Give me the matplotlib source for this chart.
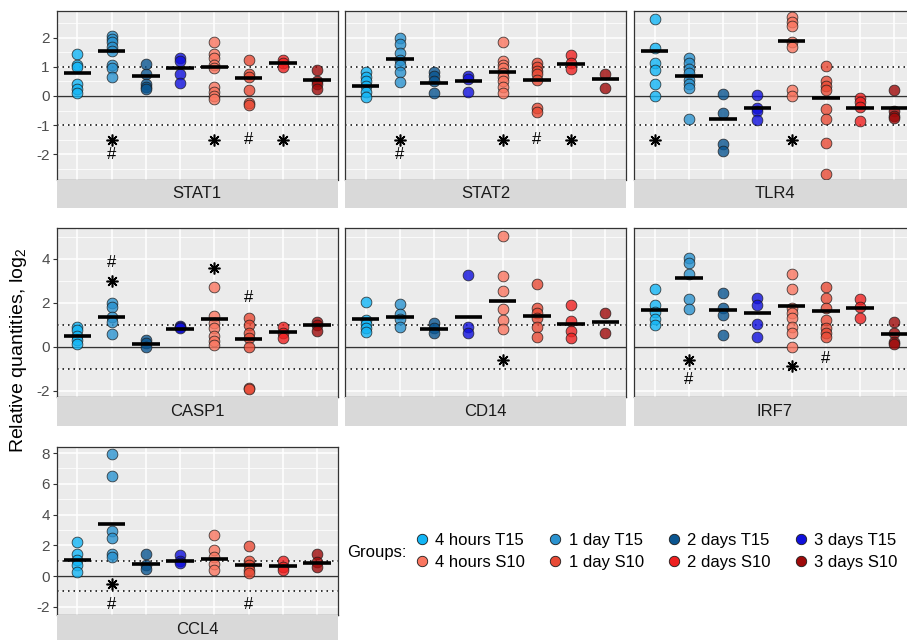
import matplotlib
matplotlib.use("Agg")
import matplotlib.pyplot as plt
from matplotlib.lines import Line2D
import numpy as np

plt.rcParams['font.family'] = ['Liberation Sans', 'DejaVu Sans']

groups = ["4 hours T15", "1 day T15", "2 days T15", "3 days T15",
          "4 hours S10", "1 day S10", "2 days S10", "3 days S10"]
colors = ["#12B5F5", "#2A92CF", "#0A5590", "#1010DC",
          "#FA7660", "#E84A35", "#EE2020", "#9E0A0A"]

genes = ["STAT1", "STAT2", "TLR4", "CASP1", "CD14", "IRF7", "CCL4"]

stat1_points = [[1.43, 1.05, 1.0, 0.4, 0.25, 0.1],
                [2.05, 1.95, 1.85, 1.7, 1.55, 1.05, 0.95, 0.65],
                [1.1, 0.75, 0.4, 0.3, 0.25],
                [1.3, 1.2, 0.75, 0.45],
                [1.85, 1.45, 1.3, 1.05, 0.95, 0.3, 0.15, 0.0, -0.1],
                [1.25, 0.75, 0.65, 0.2, -0.25, -0.3],
                [1.25, 1.15, 1.0],
                [0.9, 0.5, 0.4, 0.25]]
stat1_means = [0.78, 1.54, 0.69, 0.97, 0.98, 0.63, 1.12, 0.54]
stat1_stars = [(2, -1.5), (5, -1.5), (7, -1.5)]
stat1_hash = [(2, -2.0), (6, -1.5)]

stat2_points = [[0.83, 0.65, 0.5, 0.35, 0.15, -0.05],
                [1.99, 1.79, 1.47, 1.23, 1.06, 0.83, 0.48],
                [0.83, 0.67, 0.53, 0.09],
                [0.7, 0.6, 0.15],
                [1.84, 1.2, 1.05, 0.95, 0.8, 0.65, 0.5, 0.3, 0.1],
                [1.12, 1.0, 0.85, 0.75, 0.55, -0.4, -0.55],
                [1.4, 1.12, 0.94],
                [0.74, 0.28]]
stat2_means = [0.36, 1.27, 0.43, 0.51, 0.83, 0.56, 1.09, 0.6]
stat2_stars = [(2, -1.5), (5, -1.5), (7, -1.5)]
stat2_hash = [(2, -2.0), (6, -1.5)]

tlr4_points = [[2.65, 1.65, 1.15, 0.9, 0.4, 0.0],
               [1.29, 1.12, 0.94, 0.79, 0.56, 0.42, 0.27, -0.8],
               [0.07, -0.6, -1.65, -1.88],
               [0.03, -0.4, -0.5, -0.84],
               [2.72, 2.53, 2.4, 1.87, 1.7, 0.21, 0.0],
               [1.03, 0.53, 0.36, 0.21, -0.45, -0.8, -1.62, -2.69],
               [-0.07, -0.22, -0.37, -0.86],
               [0.19, -0.51, -0.69, -0.77]]
tlr4_means = [1.55, 0.69, -0.8, -0.41, 1.9, -0.07, -0.4, -0.41]
tlr4_stars = [(1, -1.5), (5, -1.5)]
tlr4_hash = []

casp1_points = [[0.9, 0.75, 0.5, 0.3, 0.12],
                [1.97, 1.82, 1.36, 1.14, 0.56],
                [0.3, 0.15, -0.03],
                [0.94, 0.88, 0.83],
                [2.7, 1.39, 1.06, 0.83, 0.48, 0.26, 0.08],
                [1.29, 0.98, 0.61, 0.38, 0.0, -1.9, -1.94],
                [0.91, 0.64, 0.41],
                [1.14, 0.98, 0.73]]
casp1_means = [0.5, 1.33, 0.1, 0.82, 1.26, 0.33, 0.65, 0.98]
casp1_stars = [(2, 2.98), (5, 3.59)]
casp1_hash = [(2, 3.83), (6, 2.23)]

cd14_points = [[2.05, 1.21, 1.03, 0.83, 0.68],
               [1.94, 1.48, 1.24, 0.91],
               [1.09, 0.83, 0.61],
               [3.26, 0.91, 0.64],
               [5.05, 3.21, 2.53, 1.7, 1.21, 0.79],
               [2.85, 1.74, 1.52, 1.29, 0.88, 0.42],
               [1.89, 1.18, 0.73, 0.38],
               [1.55, 0.64]]
cd14_means = [1.24, 1.36, 0.8, 1.36, 2.09, 1.39, 1.03, 1.1]
cd14_stars = [(5, -0.61)]
cd14_hash = []

irf7_points = [[2.62, 1.89, 1.59, 1.24, 0.98],
               [4.05, 3.82, 3.29, 2.15, 1.7],
               [2.45, 1.74, 1.44, 0.53],
               [2.2, 1.89, 1.02, 0.42],
               [3.29, 2.62, 1.74, 1.52, 1.29, 0.91, 0.64, -0.03],
               [2.73, 2.2, 1.74, 1.21, 0.83, 0.61, 0.45],
               [2.15, 1.79, 1.29],
               [1.14, 0.64, 0.23, 0.12]]
irf7_means = [1.67, 3.11, 1.67, 1.55, 1.85, 1.62, 1.77, 0.56]
irf7_stars = [(2, -0.6), (5, -0.88)]
irf7_hash = [(2, -1.5), (6, -0.53)]

ccl4_points = [[2.23, 1.41, 1.04, 0.72, 0.28],
               [7.95, 6.51, 2.93, 2.45, 1.41, 1.26],
               [1.41, 0.72, 0.46],
               [1.37, 0.98, 0.82],
               [2.67, 1.67, 1.26, 0.76, 0.39],
               [1.95, 0.98, 0.72, 0.39, 0.17],
               [0.98, 0.61, 0.39],
               [1.41, 0.93, 0.61]]
ccl4_means = [1.02, 3.36, 0.76, 1.0, 1.08, 0.74, 0.65, 0.85]
ccl4_stars = [(2, -0.54)]
ccl4_hash = [(2, -1.84), (6, -1.84)]

row_ylims = [(-2.87, 2.92), (-2.3, 5.38), (-2.53, 8.41)]
row_major = [[-2, -1, 0, 1, 2], [-2, 0, 2, 4], [-2, 0, 2, 4, 6, 8]]
row_minor = [[-2.5, -1.5, -0.5, 0.5, 1.5, 2.5], [-1, 1, 3, 5], [-1, 1, 3, 5, 7]]

panels = [
    (stat1_points, stat1_means, stat1_stars, stat1_hash),
    (stat2_points, stat2_means, stat2_stars, stat2_hash),
    (tlr4_points, tlr4_means, tlr4_stars, tlr4_hash),
    (casp1_points, casp1_means, casp1_stars, casp1_hash),
    (cd14_points, cd14_means, cd14_stars, cd14_hash),
    (irf7_points, irf7_means, irf7_stars, irf7_hash),
    (ccl4_points, ccl4_means, ccl4_stars, ccl4_hash),
]

W, H = 907, 640
fig = plt.figure(figsize=(W / 100, H / 100), dpi=100)


def add_px(l, t, w, h):
    return fig.add_axes([l / W, 1 - (t + h) / H, w / W, h / H])


col_left = [56.7, 345.0, 634.0]
panel_w = 281.0
row_tb = [(11.0, 179.5), (228.3, 397.3), (446.7, 615.0)]
strip_h = 28.7

for k, (gene, (pts, means, stars, hashes)) in enumerate(zip(genes, panels)):
    r, c = divmod(k, 3)
    top, bot = row_tb[r]
    ax = add_px(col_left[c], top, panel_w, bot - top)
    ax.set_facecolor('#EBEBEB')
    ax.set_xlim(0.4, 8.6)
    ax.set_ylim(*row_ylims[r])
    ax.set_xticks(np.arange(1, 9))
    ax.set_yticks(row_major[r])
    ax.set_yticks(row_minor[r], minor=True)
    ax.set_axisbelow(True)
    ax.grid(which='major', axis='both', color='white', lw=1.1)
    ax.grid(which='minor', axis='y', color='white', lw=0.55)
    ax.tick_params(axis='x', length=0, labelbottom=False)
    ax.tick_params(axis='y', which='minor', length=0)
    if c == 0:
        ax.tick_params(axis='y', which='major', length=3, color='#333333',
                       labelsize=11, labelcolor='#4D4D4D', pad=2)
        ax.set_yticklabels([str(v) for v in row_major[r]])
    else:
        ax.tick_params(axis='y', which='major', length=0, labelleft=False)
    for sp in ax.spines.values():
        sp.set_color('#333333')
        sp.set_linewidth(0.9)

    ax.axhline(0, color='#333333', lw=1.0, zorder=1.5)
    for yv in (1, -1):
        ax.axhline(yv, color='black', lw=1.1, ls=(0, (1, 2.6)), zorder=1.5)

    for i, vals in enumerate(pts):
        x = np.full(len(vals), i + 1)
        ax.scatter(x, vals, s=60, c=colors[i], alpha=0.8,
                   edgecolors='#1a1a1a', linewidths=0.6, zorder=3)
        ax.hlines(means[i], i + 1 - 0.4, i + 1 + 0.4, color='black',
                  lw=2.6, zorder=4)
    for (xi, yv) in stars:
        ax.plot([xi], [yv], marker=(8, 2, 0), ms=8.5, mew=1.15,
                color='black', ls='none', zorder=5)
    for (xi, yv) in hashes:
        ax.text(xi, yv, '#', ha='center', va='center', fontsize=12,
                color='black', zorder=5)

    sax = add_px(col_left[c], bot, panel_w, strip_h)
    sax.set_facecolor('#D9D9D9')
    sax.set_xticks([])
    sax.set_yticks([])
    for sp in sax.spines.values():
        sp.set_visible(False)
    sax.text(0.5, 0.5, gene, ha='center', va='center', fontsize=12,
             color='#1A1A1A', transform=sax.transAxes)

fig.text(19 / W, 1 - 350 / H, r'Relative quantities, log$_\mathregular{2}$',
         rotation=90, ha='center', va='center', fontsize=14, color='black')

order = [0, 4, 1, 5, 2, 6, 3, 7]
handles = [Line2D([], [], marker='o', ls='none', markerfacecolor=colors[i],
                  markeredgecolor='#1a1a1a', markersize=7.5, mew=0.6)
           for i in order]
labels = [groups[i] for i in order]
fig.legend(handles, labels, ncol=4, loc='center left',
           bbox_to_anchor=(413.7 / W, 1 - 551.5 / H), frameon=False,
           fontsize=12, handlelength=1.0, handletextpad=0.3,
           columnspacing=1.3, labelspacing=0.4, borderpad=0,
           borderaxespad=0)
fig.text(347 / W, 1 - 552 / H, 'Groups:', ha='left', va='center',
         fontsize=12, color='black')

fig.savefig('out.png', dpi=100)
